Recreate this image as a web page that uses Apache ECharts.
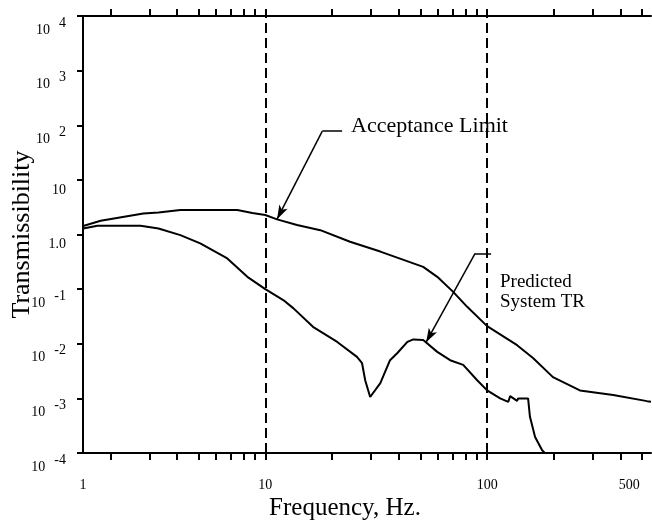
<!DOCTYPE html>
<html>
<head>
<meta charset="utf-8">
<script src="https://cdn.jsdelivr.net/npm/echarts@6/dist/echarts.min.js"></script>
<style>
html,body{margin:0;padding:0;background:#fff;}
#chart{width:652px;height:525px;}
</style>
</head>
<body>
<div id="chart"></div>
<script>
// frequency axis: left edge sits near 1.5 Hz but the original labels it "1"
const freqMin = 1.507
const freqMax = 548
const freqTicks = [2,3,4,5,6,7,8,9,10,20,30,40,50,60,70,80,90,100,200,300,400,500]
const freqLabels = [1.5075, 10, 100, 500]

// acceptance limit curve
const limitFreq = [1.51, 1.81, 2.82, 3.30, 4.14, 7.48, 8.74, 10, 11.3, 13.9, 17.7, 24.1, 33.0, 51.5, 59.6, 70.3, 81.3, 100, 136.5, 161, 198, 262, 370, 526, 548]
const limitTR = [1.43, 1.78, 2.43, 2.54, 2.80, 2.80, 2.47, 2.27, 1.89, 1.49, 1.20, 0.735, 0.487, 0.256, 0.168, 0.089, 0.0474, 0.021, 0.0094, 0.0055, 0.00245, 0.0014, 0.00115, 0.00089, 0.00087]

// predicted system TR curve
const sysFreq = [1.51, 1.75, 2.74, 3.30, 4.14, 5.09, 6.74, 8.30, 10, 12.05, 13.4, 16.4, 21.1, 25.9, 27.3, 28.2, 29.7, 33.0, 36.5, 39.3, 43.7, 46.5, 51.5, 59.6, 68.1, 78.0, 90.2, 100, 114.5, 124.5, 127, 136.5, 138, 153, 156, 164.5, 177, 182]
const sysTR = [1.29, 1.44, 1.44, 1.29, 0.975, 0.687, 0.365, 0.168, 0.1, 0.063, 0.0444, 0.0204, 0.0108, 0.00575, 0.0044, 0.00215, 0.00106, 0.0019, 0.005, 0.0067, 0.0108, 0.012, 0.0117, 0.0071, 0.005, 0.0041, 0.00215, 0.0014, 0.001, 0.00086, 0.0011, 0.0009, 0.001, 0.001, 0.00046, 0.000197, 0.000112, 0.0001]

// dashed reference frequencies
const markerFreq = [10, 100]

// annotation leaders: [end of shelf, elbow, arrow tip]
const limitArrow = [[22.2, 78.3], [18.07, 78.3], [11.3, 1.91]]
const sysArrow = [[104.2, 0.451], [88.3, 0.451], [53.1, 0.0107]]

const serif = 'Liberation Serif'

function pairs(xs, ys){
	return xs.map((x, i) => [x, ys[i]])
}

function leader(pts){
	return [
		[{coord: pts[0], symbol: 'none'}, {coord: pts[1], symbol: 'none'}],
		[{coord: pts[1], symbol: 'none'}, {coord: pts[2], symbol: 'arrow', symbolSize: [7, 14]}]
	]
}

const xCommon = {
	type: 'log',
	logBase: 10,
	min: freqMin,
	max: freqMax,
	axisLine: {lineStyle: {color: '#000', width: 2}},
	axisTick: {show: true, inside: false, length: 7, customValues: freqTicks, lineStyle: {color: '#000', width: 2}},
	splitLine: {show: false},
	minorTick: {show: false}
}

let option = {
	animation: false,
	backgroundColor: '#fff',
	grid: {left: 83, top: 16, right: 1, bottom: 72, containLabel: false, outerBoundsMode: 'none'},
	xAxis: [
		Object.assign({}, xCommon, {
			position: 'bottom',
			name: 'Frequency, Hz.',
			nameLocation: 'middle',
			nameGap: 43,
			nameMoveOverlap: false,
			nameTextStyle: {fontFamily: serif, fontSize: 25, color: '#000', padding: [0, 44, 0, 0]},
			axisLabel: {
				customValues: freqLabels,
				margin: 25,
				fontFamily: serif,
				fontSize: 14,
				color: '#000',
				formatter: v => {
					if (v < 2) return '1'
					if (v > 400) return '{r|' + Math.round(v) + '}'
					return String(Math.round(v))
				},
				rich: {
					r: {fontFamily: serif, fontSize: 14, color: '#000', padding: [0, 26, 0, 0]}
				}
			}
		}),
		Object.assign({}, xCommon, {
			position: 'top',
			axisLabel: {show: false}
		})
	],
	yAxis: {
		type: 'log',
		logBase: 10,
		min: 1e-4,
		max: 1e4,
		interval: 1,
		name: 'Transmissibility',
		nameLocation: 'middle',
		nameGap: 48,
		nameMoveOverlap: false,
		nameTextStyle: {fontFamily: serif, fontSize: 26, color: '#000'},
		axisLine: {lineStyle: {color: '#000', width: 2}},
		axisTick: {inside: false, length: 6, lineStyle: {color: '#000', width: 2}},
		splitLine: {show: false},
		axisLabel: {
			margin: 17,
			verticalAlign: 'top',
			formatter: v => {
				const e = Math.round(Math.log10(v))
				if (e === 0) return '{p|1.0}'
				if (e === 1) return '{p|10}'
				return '{b|10}{s|' + e + '}'
			},
			rich: {
				p: {fontFamily: serif, fontSize: 14, color: '#000', padding: [3, 0, 0, 0]},
				b: {fontFamily: serif, fontSize: 14, color: '#000', verticalAlign: 'bottom'},
				s: {fontFamily: serif, fontSize: 14, color: '#000', verticalAlign: 'bottom', padding: [0, 0, 7, 9]}
			}
		}
	},
	graphic: [
		{type: 'text', left: 351, top: 115, style: {text: 'Acceptance Limit', font: '22px "Liberation Serif"', fill: '#000'}},
		{type: 'text', left: 500, top: 272, style: {text: 'Predicted\nSystem TR', font: '19px "Liberation Serif"', lineHeight: 20, fill: '#000'}}
	],
	series: [
		{
			name: 'Acceptance Limit',
			type: 'line',
			data: pairs(limitFreq, limitTR),
			showSymbol: false,
			lineStyle: {color: '#000', width: 2},
			markLine: {
				silent: true,
				symbol: 'none',
				label: {show: false},
				lineStyle: {color: '#000', width: 2, type: [10, 5]},
				data: markerFreq.map(f => ({xAxis: f}))
			}
		},
		{
			name: 'Predicted System TR',
			type: 'line',
			data: pairs(sysFreq, sysTR),
			showSymbol: false,
			lineStyle: {color: '#000', width: 2},
			markLine: {
				silent: true,
				label: {show: false},
				lineStyle: {color: '#000', width: 1.5, type: 'solid'},
				data: leader(limitArrow).concat(leader(sysArrow))
			}
		}
	]
}

let myChart = echarts.init(document.getElementById('chart'))
myChart.setOption(option)
</script>
</body>
</html>
